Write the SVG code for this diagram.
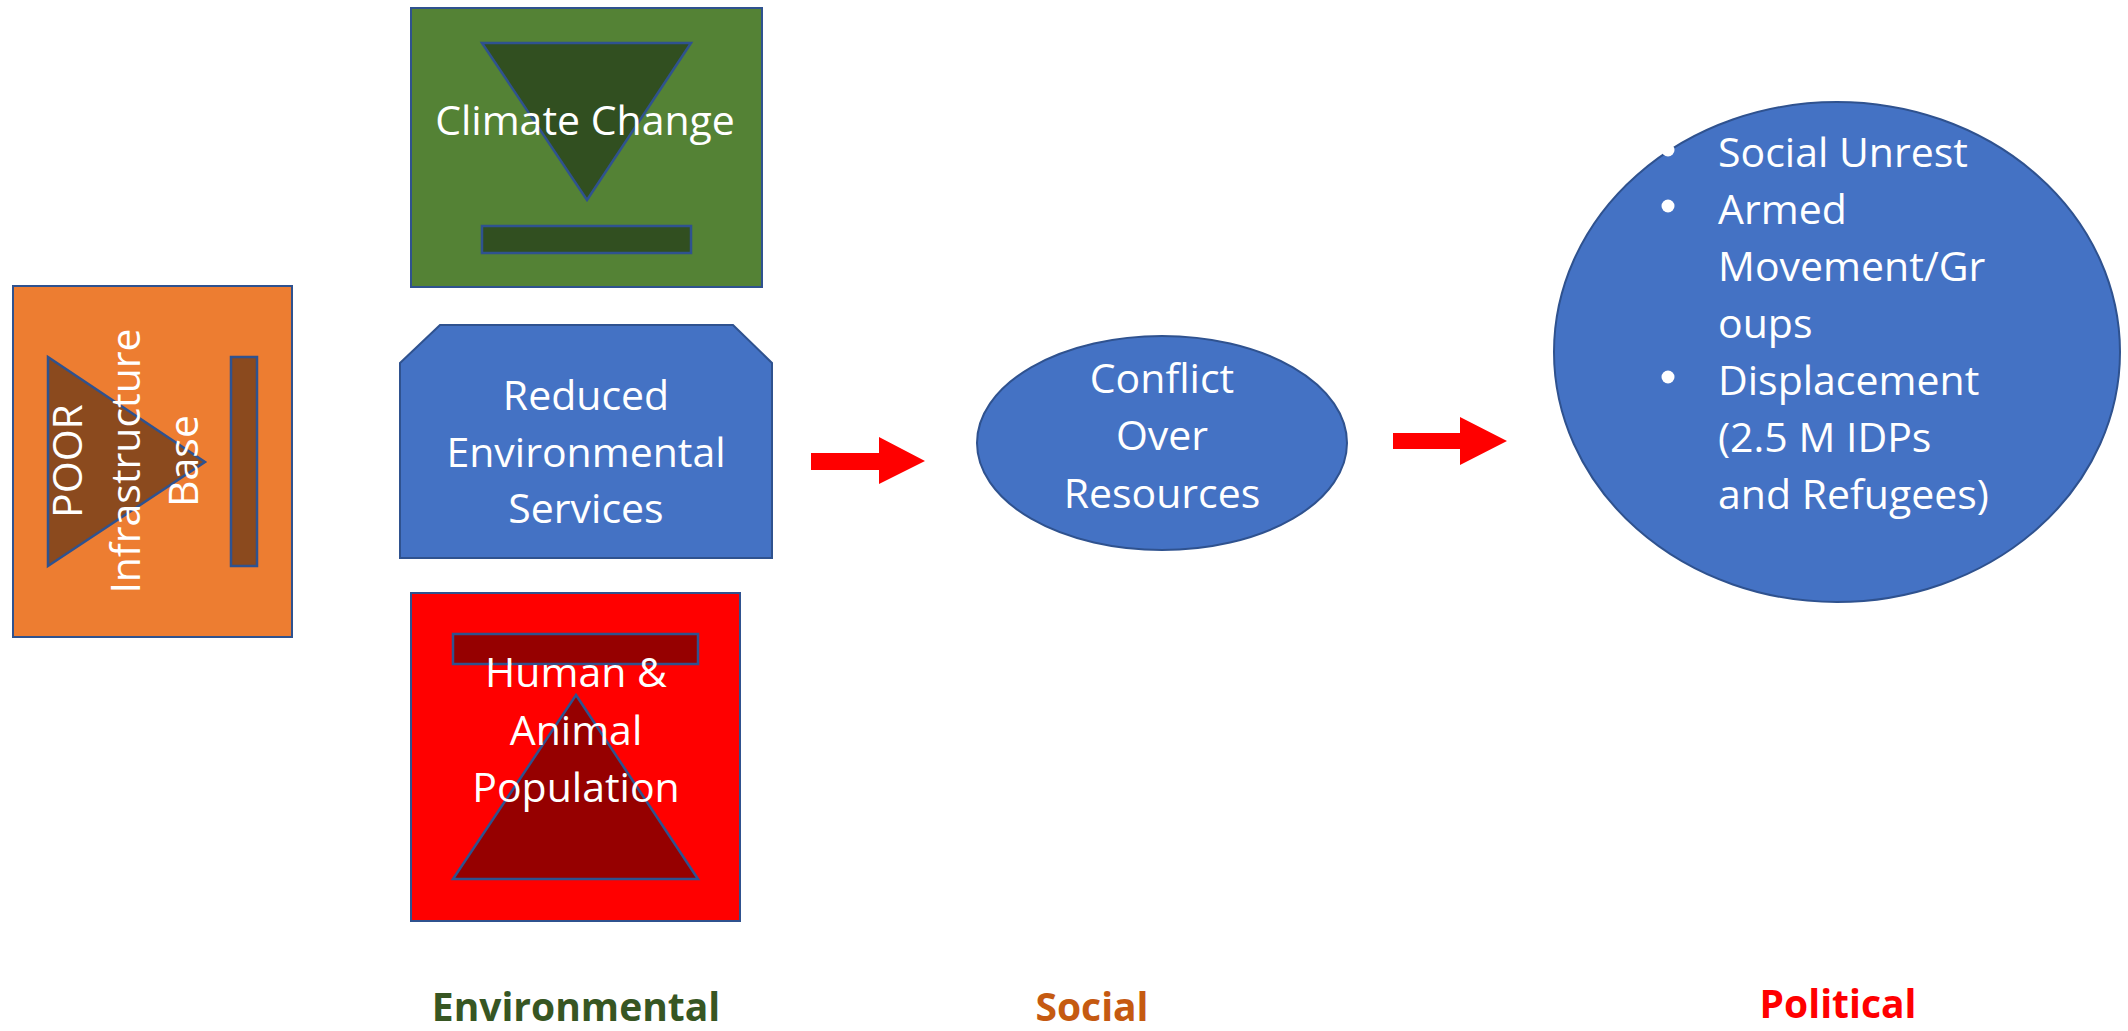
<svg xmlns="http://www.w3.org/2000/svg" width="2128" height="1031" viewBox="0 0 2128 1031">
<style>
.box{stroke:#2F528F;stroke-width:2}
.inner{stroke:#2F528F;stroke-width:2.5}
.t{font-family:"Open Sans","Noto Sans","Liberation Sans",sans-serif;fill:#fff;font-size:41px}
.c{text-anchor:middle}
.lbl{font-family:"Open Sans","Noto Sans","Liberation Sans",sans-serif;font-weight:bold;font-size:39px;text-anchor:middle}
.arrow{fill:#FF0000}
</style>
<rect width="2128" height="1031" fill="#fff"/>
<g id="poor-infrastructure">
<rect class="box" x="13" y="286" width="279" height="351" fill="#ED7D31"/>
<polygon class="inner" points="48,357 205,462 48,566" fill="#8B4A1E"/>
<rect class="inner" x="231" y="357" width="26" height="209" fill="#8B4A1E"/>
<text class="t c" transform="translate(82,461) rotate(-90)">POOR</text>
<text class="t c" transform="translate(140,461) rotate(-90)">Infrastructure</text>
<text class="t c" transform="translate(198,461) rotate(-90)">Base</text>
</g>
<g id="climate-change">
<rect class="box" x="411" y="8" width="351" height="279" fill="#548235"/>
<polygon class="inner" points="482,43 691,43 587,200" fill="#314F20"/>
<rect class="inner" x="482" y="226" width="209" height="27" fill="#314F20"/>
<text class="t c" x="585" y="135">Climate Change</text>
</g>
<g id="reduced-services">
<polygon class="box" points="400,363 440,325 733,325 772,363 772,558 400,558" fill="#4472C4"/>
<text class="t c" x="586" y="410">Reduced</text>
<text class="t c" x="586" y="467">Environmental</text>
<text class="t c" x="586" y="523">Services</text>
</g>
<g id="population">
<rect class="box" x="411" y="593" width="329" height="328" fill="#FF0000"/>
<rect class="inner" x="453" y="634" width="245" height="30" fill="#960000"/>
<polygon class="inner" points="576,695 698,879 453,879" fill="#960000"/>
<text class="t c" x="576" y="687">Human &amp;</text>
<text class="t c" x="576" y="745">Animal</text>
<text class="t c" x="576" y="802">Population</text>
</g>
<g id="connectors">
<polygon class="arrow" points="811,453 879,453 879,437 925,461 879,484 879,470 811,470"/>
<polygon class="arrow" points="1393,433 1460,433 1460,417 1507,441 1460,465 1460,449 1393,449"/>
</g>
<g id="conflict">
<ellipse class="box" cx="1162" cy="443" rx="185" ry="107" fill="#4472C4"/>
<text class="t c" x="1162" y="393">Conflict</text>
<text class="t c" x="1162" y="450">Over</text>
<text class="t c" x="1162" y="508">Resources</text>
</g>
<g id="outcomes">
<ellipse class="box" cx="1837" cy="352" rx="283" ry="250" fill="#4472C4"/>
<circle cx="1668" cy="150" r="6.5" fill="#fff"/>
<circle cx="1668" cy="206" r="6.5" fill="#fff"/>
<circle cx="1668" cy="377" r="6.5" fill="#fff"/>
<text class="t" x="1718" y="167">Social Unrest</text>
<text class="t" x="1718" y="224">Armed</text>
<text class="t" x="1718" y="281">Movement/Gr</text>
<text class="t" x="1718" y="338">oups</text>
<text class="t" x="1718" y="395">Displacement</text>
<text class="t" x="1718" y="452">(2.5 M IDPs</text>
<text class="t" x="1718" y="509">and Refugees)</text>
</g>
<g id="labels">
<text class="lbl" x="576" y="1021" fill="#375623">Environmental</text>
<text class="lbl" x="1092" y="1021" fill="#C55A11">Social</text>
<text class="lbl" x="1838" y="1018" fill="#FF0000">Political</text>
</g>
</svg>
